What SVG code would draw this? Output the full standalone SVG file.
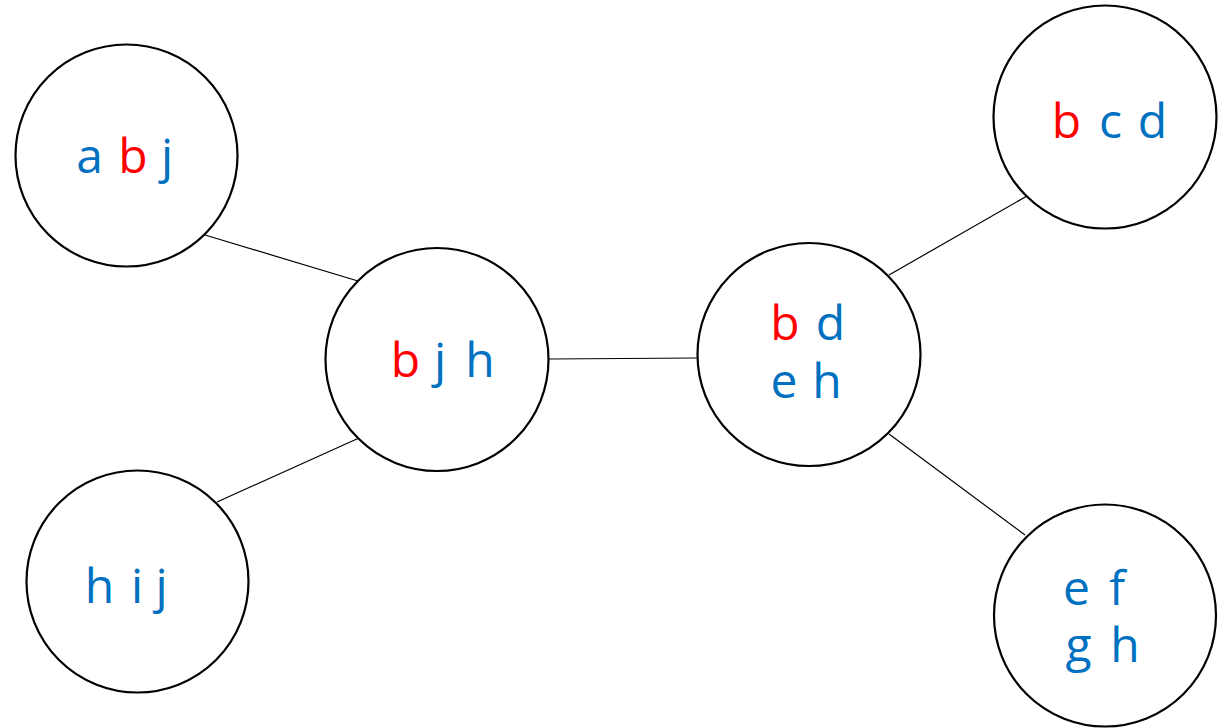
<svg xmlns="http://www.w3.org/2000/svg" width="1230" height="728" viewBox="0 0 1230 728">
<style>
.node{fill:#fff;stroke:#000;stroke-width:2.2}
.edge{stroke:#000;stroke-width:1.2;fill:none}
.lbl{font-family:"Open Sans","Noto Sans",sans-serif;font-size:48px;text-anchor:middle}
.r{fill:#ff0000}
.b{fill:#0070c0}
</style>
<rect width="1230" height="728" fill="#fff"/>
<g id="connectors">
<line class="edge" x1="205" y1="235" x2="358" y2="281"/>
<line class="edge" x1="217" y1="502" x2="359" y2="438"/>
<line class="edge" x1="549" y1="359" x2="697" y2="358"/>
<line class="edge" x1="889" y1="275" x2="1027" y2="196"/>
<line class="edge" x1="889" y1="434" x2="1025" y2="535"/>
</g>
<g id="n-abj">
<circle class="node" cx="126.5" cy="155.5" r="111"/>
<text class="lbl" y="173"><tspan class="b" x="89.5">a</tspan><tspan class="r" x="133">b</tspan><tspan class="b" x="167">j</tspan></text>
</g>
<g id="n-bjh">
<circle class="node" cx="437" cy="359.5" r="111.5"/>
<text class="lbl" y="377"><tspan class="r" x="405.5">b</tspan><tspan class="b" x="440">j</tspan><tspan class="b" x="480">h</tspan></text>
</g>
<g id="n-hij">
<circle class="node" cx="137.5" cy="581.5" r="111"/>
<text class="lbl b" y="603"><tspan x="99.5">h</tspan><tspan x="137">i</tspan><tspan x="161.5">j</tspan></text>
</g>
<g id="n-bdeh">
<circle class="node" cx="809" cy="354.5" r="111.5"/>
<text class="lbl" y="340"><tspan class="r" x="785">b</tspan><tspan class="b" x="830.5">d</tspan></text>
<text class="lbl b" y="397.5"><tspan x="784">e</tspan><tspan x="827">h</tspan></text>
</g>
<g id="n-bcd">
<circle class="node" cx="1105" cy="117" r="111.5"/>
<text class="lbl" y="138"><tspan class="r" x="1066.5">b</tspan><tspan class="b" x="1110.5">c</tspan><tspan class="b" x="1152.5">d</tspan></text>
</g>
<g id="n-efgh">
<circle class="node" cx="1105" cy="615.5" r="111"/>
<text class="lbl b" y="605"><tspan x="1076.5">e</tspan><tspan x="1117">f</tspan></text>
<text class="lbl b" y="661.5"><tspan x="1078.5">g</tspan><tspan x="1125">h</tspan></text>
</g>
</svg>
